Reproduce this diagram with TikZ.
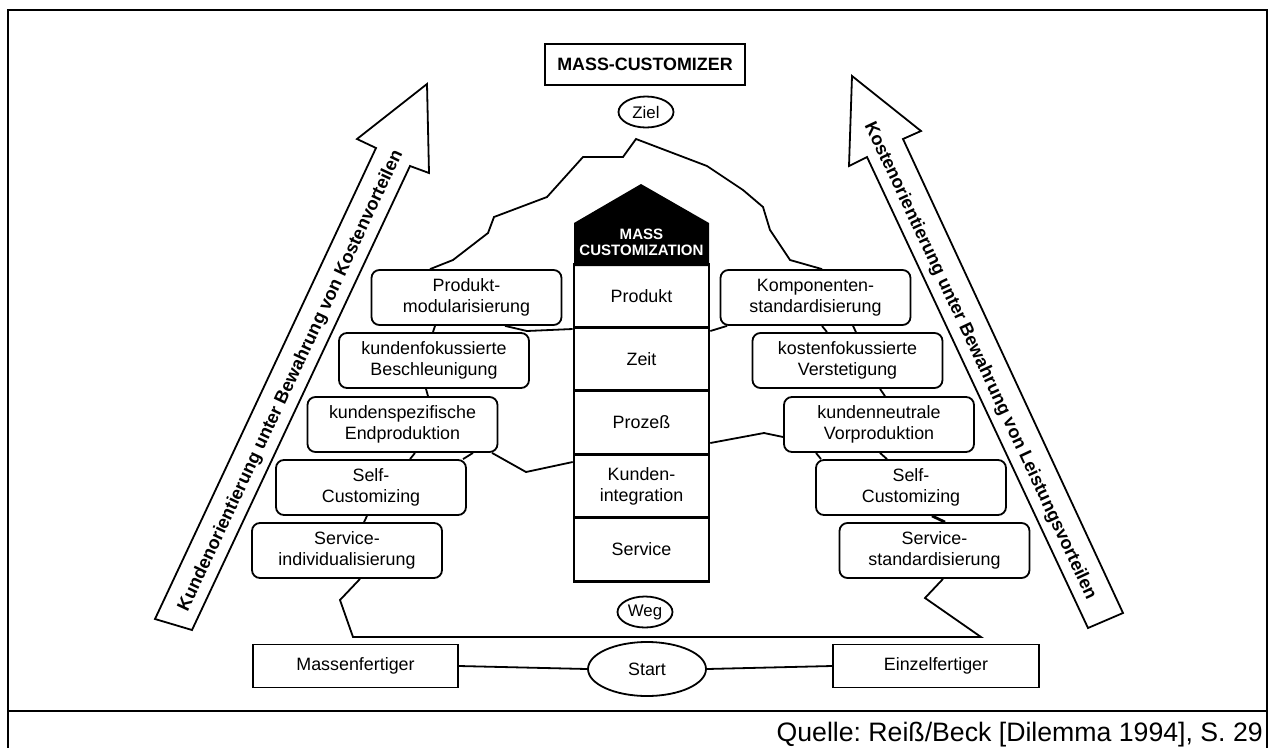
\documentclass[tikz,border=0pt]{standalone}
\usepackage{fontspec}
\setmainfont{Liberation Sans}
\usetikzlibrary{shapes.geometric}
\frenchspacing
\begin{document}
\begin{tikzpicture}[x=0.75pt,y=-0.75pt,line join=miter,
  ln/.style={line width=1.35pt},
  txt/.style={font=\fontsize{13.4}{15.6}\selectfont},
  rbox/.style={draw,fill=white,line width=1.35pt,rounded corners=6pt,
    minimum width=142.5pt,minimum height=41.25pt,align=center,inner sep=0pt,txt},
  cell/.style={draw,fill=white,line width=2pt,minimum width=101.25pt,
    minimum height=47.5pt,align=center,inner sep=0pt,txt},
  oval/.style={draw,fill=white,ellipse,line width=1.35pt,inner sep=0pt,
    font=\fontsize{12.6}{14}\selectfont},
  sbox/.style={draw,fill=white,line width=1.35pt,minimum height=32.25pt,
    inner sep=0pt,txt},
  bigarrow/.style={draw,fill=white,line width=1.35pt},
  arrowtext/.style={font=\bfseries\fontsize{13.6}{15}\selectfont,inner sep=0pt}
]
\useasboundingbox (0,0) rectangle (1271,747);

% frame and source line
\draw[line width=1.4pt] (8,10) rectangle (1267,760);
\draw[line width=1.4pt] (8,711) -- (1267,711);
\node[anchor=base east,inner sep=0pt,font=\fontsize{20}{24}\selectfont] (quelle)
  at (1263,741) {Quelle: Reiß/Beck [Dilemma 1994], S. 29};

% the two broad arrows
\draw[bigarrow] (155,619) -- (376,148) -- (357,139) -- (427,84) -- (429,173)
  -- (410,166) -- (192,630) -- cycle;
\draw[bigarrow] (1123,613) -- (903,139) -- (921,131) -- (852,76) -- (849,166)
  -- (867,157) -- (1088,628) -- cycle;
\node[arrowtext,rotate=64.9] (kundtxt) at (291,381)
  {Kundenorientierung unter Bewahrung von Kostenvorteilen};
\node[arrowtext,rotate=-64.9] (kosttxt) at (980,361)
  {Kostenorientierung unter Bewahrung von Leistungsvorteilen};

% goal
\node[draw,line width=1.35pt,minimum width=150pt,minimum height=30.75pt,inner sep=0pt,
  font=\bfseries\fontsize{13.4}{15}\selectfont] (mc) at (645,64.5) {MASS-CUSTOMIZER};
\node[oval,minimum width=41.25pt,minimum height=23.25pt] (ziel) at (646,112) {Ziel};

% column of the house
\node[cell] (c1) at (641.5,296) {Produkt};
\node[cell] (c2) at (641.5,359) {Zeit};
\node[cell] (c3) at (641.5,422.5) {Prozeß};
\node[cell] (c4) at (641.5,486) {Kunden-\\integration};
\node[cell] (c5) at (641.5,549.5) {Service};
\fill (574,266) -- (574,223) -- (641,184) -- (709,223) -- (709,266) -- cycle;
\node[align=center,text=white,inner sep=0pt,
  font=\bfseries\fontsize{11.3}{12.2}\selectfont] (house) at (641.5,242) {MASS\\CUSTOMIZATION};

% left steps
\node[rbox] (pm) at (466.5,297.5) {Produkt-\\modularisierung};
\node[rbox] (kb) at (434,360.5) {kundenfokussierte\\Beschleunigung};
\node[rbox] (ke) at (402.5,424.5) {kundenspezifische\\Endproduktion};
\node[rbox] (scl) at (371,487.5) {Self-\\Customizing};
\node[rbox] (sil) at (347,550.5) {Service-\\individualisierung};

% right steps
\node[rbox] (ks) at (815.5,297.5) {Komponenten-\\standardisierung};
\node[rbox] (kv) at (847.5,360.5) {kostenfokussierte\\Verstetigung};
\node[rbox] (kn) at (879,424.5) {kundenneutrale\\Vorproduktion};
\node[rbox] (scr) at (911,487.5) {Self-\\Customizing};
\node[rbox] (ssr) at (934.5,550.5) {Service-\\standardisierung};

% mountain outline
\draw[ln] (430,0 |- pm.north) -- (453,260) -- (488,233) -- (494,217) -- (547,197)
  -- (583,157) -- (623,157) -- (636,139) -- (707,166) -- (743,190) -- (763,207)
  -- (770,230) -- (790,260) -- (822,0 |- ks.north);
\draw[ln] (505,0 |- pm.south) -- (527,331) -- (c1.south west);
\draw[ln] (435,0 |- pm.south) -- (433,0 |- kb.north);
\draw[ln] (426,0 |- kb.south) -- (428,0 |- ke.north);
\draw[ln] (492,0 |- ke.south) -- (526,472) -- (c4.west |- 0,462);
\draw[ln] (415,0 |- ke.south) -- (410,0 |- scl.north);
\draw[ln] (473,0 |- ke.south) -- (463,0 |- scl.north);
\draw[ln] (367,0 |- scl.south) -- (364,0 |- sil.north);
\draw[ln] (727,0 |- ks.south) -- (c2.east |- 0,331);
\draw[ln] (822,0 |- ks.south) -- (827,0 |- kv.north);
\draw[ln] (853,0 |- ks.south) -- (856,0 |- kv.north);
\draw[ln] (880,0 |- kv.south) -- (885,0 |- kn.north);
\draw[ln] (kn.west |- 0,437) -- (764,433) -- (c3.east |- 0,443);
\draw[ln] (816,0 |- kn.south) -- (821,0 |- scr.north);
\draw[ln] (880,0 |- kn.south) -- (887,0 |- scr.north);
\draw[line width=2.1pt] (932,0 |- scr.south) -- (945,0 |- ssr.north);
\draw[ln] (360,0 |- sil.south) -- (340,600) -- (353,637) -- (981,637) -- (925,598)
  -- (943,0 |- ssr.south);

% way and start
\node[oval,minimum width=41.25pt,minimum height=23.25pt] (weg) at (645,612) {Weg};
\node[sbox,minimum width=153.75pt] (mf) at (355.5,666) {Massenfertiger};
\node[oval,minimum width=88.5pt,minimum height=40.5pt,txt] (start) at (647,669) {Start};
\node[sbox,minimum width=154.5pt] (ef) at (936,666) {Einzelfertiger};
\draw[ln] (mf.east) -- (start.west);
\draw[ln] (start.east) -- (ef.west);
\end{tikzpicture}
\end{document}
